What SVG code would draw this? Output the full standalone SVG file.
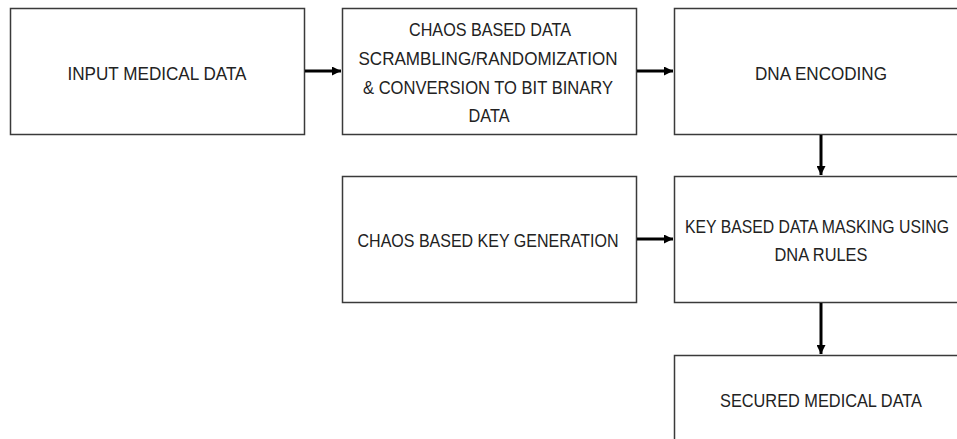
<svg xmlns="http://www.w3.org/2000/svg" width="957" height="439" viewBox="0 0 957 439">
  <style>
    .box { fill: #ffffff; stroke: #3a3a3a; stroke-width: 1.5; }
    .lbl { font-family: "Liberation Sans", Arial, sans-serif; font-size: 19px; fill: #222222; text-anchor: middle; }
    .wire { stroke: #000000; stroke-width: 3; fill: none; marker-end: url(#head); }
  </style>
  <defs>
    <marker id="head" viewBox="0 0 10 10" refX="10" refY="5" markerUnits="userSpaceOnUse" markerWidth="10" markerHeight="9" orient="auto">
      <path d="M0,0 L10,5 L0,10 Z" fill="#000000"/>
    </marker>
  </defs>
  <rect width="957" height="439" fill="#ffffff"/>

  <g id="input-medical-data">
    <rect class="box" x="10.5" y="8.5" width="294" height="126"/>
    <text class="lbl" x="157" y="80" textLength="179" lengthAdjust="spacingAndGlyphs">INPUT MEDICAL DATA</text>
  </g>

  <g id="chaos-scrambling">
    <rect class="box" x="342.5" y="8.5" width="294" height="126"/>
    <text class="lbl" x="490" y="36" textLength="162" lengthAdjust="spacingAndGlyphs">CHAOS BASED DATA</text>
    <text class="lbl" x="488" y="65" textLength="259" lengthAdjust="spacingAndGlyphs">SCRAMBLING/RANDOMIZATION</text>
    <text class="lbl" x="488" y="94" textLength="250" lengthAdjust="spacingAndGlyphs">&amp; CONVERSION TO BIT BINARY</text>
    <text class="lbl" x="489" y="122" textLength="41" lengthAdjust="spacingAndGlyphs">DATA</text>
  </g>

  <g id="dna-encoding">
    <rect class="box" x="674.5" y="8.5" width="294" height="126"/>
    <text class="lbl" x="821" y="80" textLength="132" lengthAdjust="spacingAndGlyphs">DNA ENCODING</text>
  </g>

  <g id="chaos-key-generation">
    <rect class="box" x="342.5" y="176.5" width="294" height="126"/>
    <text class="lbl" x="488" y="247" textLength="261" lengthAdjust="spacingAndGlyphs">CHAOS BASED KEY GENERATION</text>
  </g>

  <g id="dna-masking">
    <rect class="box" x="674.5" y="176.5" width="294" height="126"/>
    <!-- long first line is condensed horizontally so it stays inside the view -->
    <text class="lbl" transform="translate(817 233) scale(0.8 1)" x="0" y="0" textLength="330" lengthAdjust="spacingAndGlyphs">KEY BASED DATA MASKING USING</text>
    <text class="lbl" x="821" y="261" textLength="93" lengthAdjust="spacingAndGlyphs">DNA RULES</text>
  </g>

  <g id="secured-medical-data">
    <rect class="box" x="674.5" y="355.5" width="294" height="126"/>
    <text class="lbl" x="821" y="407" textLength="202" lengthAdjust="spacingAndGlyphs">SECURED MEDICAL DATA</text>
  </g>

  <g id="connectors">
    <line class="wire" x1="305" y1="71" x2="341" y2="71"/>
    <line class="wire" x1="637" y1="71" x2="673" y2="71"/>
    <line class="wire" x1="821" y1="135" x2="821" y2="175"/>
    <line class="wire" x1="637" y1="239" x2="673" y2="239"/>
    <line class="wire" x1="821" y1="303" x2="821" y2="354"/>
  </g>
</svg>
